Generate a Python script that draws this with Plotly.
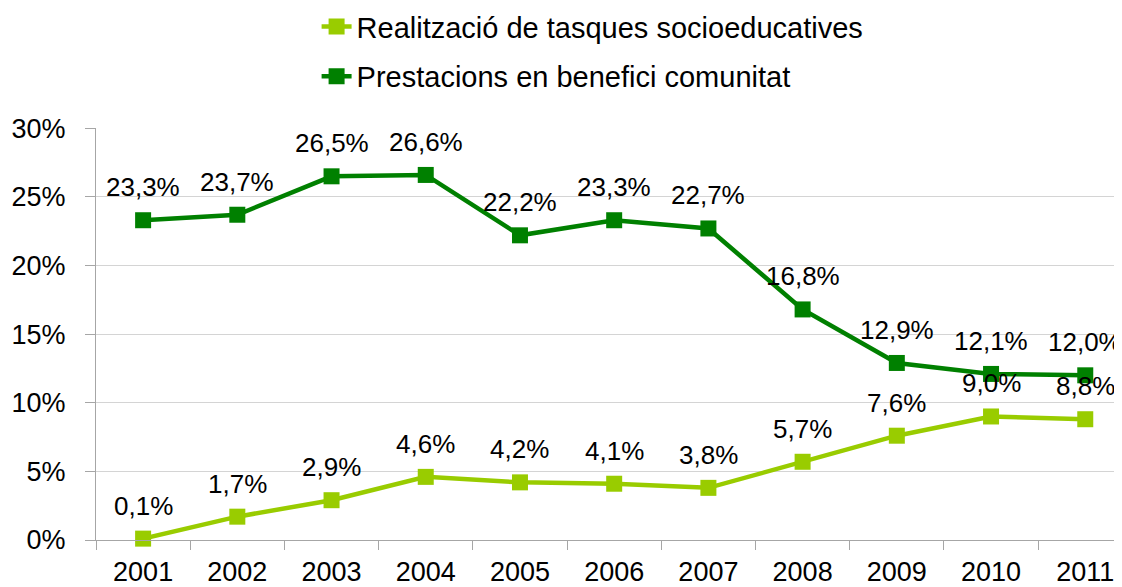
import plotly.graph_objects as go

years = ["2001", "2002", "2003", "2004", "2005", "2006", "2007", "2008", "2009", "2010", "2011"]
socio = [0.1, 1.7, 2.9, 4.6, 4.2, 4.1, 3.8, 5.7, 7.6, 9.0, 8.8]
prest = [23.3, 23.7, 26.5, 26.6, 22.2, 23.3, 22.7, 16.8, 12.9, 12.1, 12.0]
y_ticks = [0, 5, 10, 15, 20, 25, 30]
y_tick_text = ["0%", "5%", "10%", "15%", "20%", "25%", "30%"]

name_socio = "Realització de tasques socioeducatives"
name_prest = "Prestacions en benefici comunitat"
c_socio = "#99cc00"
c_prest = "#008000"
FONT = "Liberation Sans, Arial, sans-serif"

xs = list(range(len(years)))

fig = go.Figure()
fig.add_trace(go.Scatter(x=xs, y=prest, name=name_prest, mode="lines+markers",
                         line=dict(color=c_prest, width=4.5),
                         marker=dict(symbol="square", size=16, color=c_prest),
                         legendgroup="b", legendrank=2, cliponaxis=False))
fig.add_trace(go.Scatter(x=xs, y=socio, name=name_socio, mode="lines+markers",
                         line=dict(color=c_socio, width=4.5),
                         marker=dict(symbol="square", size=16, color=c_socio),
                         legendgroup="a", legendrank=1, cliponaxis=False))

def fmt(v):
    return f"{v:.1f}".replace(".", ",") + "%"

annots = []
for series in (socio, prest):
    for x, v in zip(xs, series):
        annots.append(dict(x=x, y=v, xref="x", yref="y", text=fmt(v), showarrow=False,
                           yshift=33, font=dict(family=FONT, size=26, color="#000000")))

fig.update_layout(
    width=1114, height=579,
    margin=dict(l=88, r=0, t=120, b=47, autoexpand=False),
    paper_bgcolor="white", plot_bgcolor="white",
    font=dict(family=FONT, size=26, color="#000000"),
    annotations=annots,
    showlegend=True,
    legend=dict(x=0.215, xref="paper", xanchor="left", y=1.308, yref="paper", yanchor="top",
                font=dict(family=FONT, size=29, color="#000000"),
                tracegroupgap=9, bgcolor="rgba(0,0,0,0)", traceorder="grouped"),
    xaxis=dict(range=[-0.5, 10.39], tickmode="array", tickvals=xs, ticktext=years,
               showgrid=False, zeroline=False, ticks="", automargin=False,
               showline=True, linecolor="#a6a6a6", linewidth=1.3,
               tickfont=dict(family=FONT, size=27), ticklabelstandoff=7,
               minor=dict(tickmode="array", tickvals=[i - 0.5 for i in range(len(years))],
                          ticks="outside", ticklen=9, tickcolor="#a6a6a6", tickwidth=1.3,
                          showgrid=False)),
    yaxis=dict(range=[0, 30.02], tickmode="array", tickvals=y_ticks, ticktext=y_tick_text,
               showgrid=True, gridcolor="#d4d4d4", gridwidth=1.3, zeroline=False,
               showline=True, linecolor="#a6a6a6", linewidth=1.3, automargin=False,
               ticks="outside", ticklen=10, tickcolor="#a6a6a6", tickwidth=1.3,
               tickfont=dict(family=FONT, size=27), ticklabelstandoff=14),
)

fig.write_html("out.html")
